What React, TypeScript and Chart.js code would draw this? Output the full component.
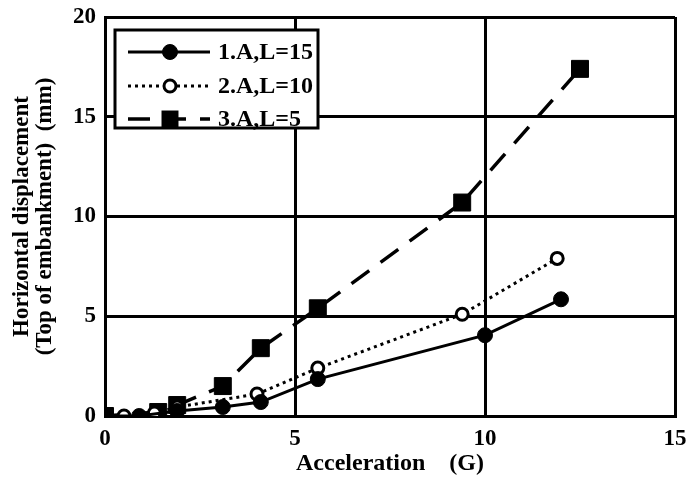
import React, { useEffect, useRef } from "react";
import { Chart, registerables } from "chart.js";

Chart.register(...registerables);

const labels1 = "1.A,L=15";
const labels2 = "2.A,L=10";
const labels3 = "3.A,L=5";

const accel1 = [0, 0.9, 1.9, 3.1, 4.1, 5.6, 10.0, 12.0];
const disp1 = [0, 0.0, 0.25, 0.45, 0.7, 1.85, 4.05, 5.85];

const accel2 = [0, 0.5, 1.3, 1.9, 4.0, 5.6, 9.4, 11.9];
const disp2 = [0, 0.0, 0.15, 0.45, 1.1, 2.4, 5.1, 7.9];

const accel3 = [0, 1.4, 1.9, 3.1, 4.1, 5.6, 9.4, 12.5];
const disp3 = [0, 0.2, 0.55, 1.5, 3.4, 5.4, 10.7, 17.4];

const xTicks = [0, 5, 10, 15];
const yTicks = [0, 5, 10, 15, 20];

const FONT = "'Liberation Serif', 'DejaVu Serif', serif";

const toPts = (xs: number[], ys: number[]) => xs.map((x, i) => ({ x, y: ys[i] }));

const legendPlugin = {
  id: "boxLegend",
  afterDatasetsDraw(chart: any) {
    const ctx = chart.ctx;
    const left = 115, top = 30, w = 203, h = 98;
    ctx.save();
    ctx.fillStyle = "#fff";
    ctx.fillRect(left, top, w, h);
    ctx.lineWidth = 3;
    ctx.strokeStyle = "#000";
    ctx.strokeRect(left, top, w, h);
    const rows = [52, 86, 119];
    chart.data.datasets.forEach((ds: any, i: number) => {
      const y = rows[i];
      ctx.setLineDash(ds.borderDash || []);
      ctx.lineWidth = ds.borderWidth;
      ctx.beginPath();
      ctx.moveTo(128, y);
      ctx.lineTo(210, y);
      ctx.stroke();
      ctx.setLineDash([]);
      const cx = 170;
      const r = ds.pointRadius;
      ctx.lineWidth = ds.pointBorderWidth;
      if (ds.pointStyle === "rect") {
        const s = Math.SQRT1_2 * r;
        ctx.fillStyle = "#000";
        ctx.fillRect(cx - s, y - s, 2 * s, 2 * s);
      } else {
        ctx.beginPath();
        ctx.arc(cx, y, r, 0, Math.PI * 2);
        ctx.fillStyle = ds.pointBackgroundColor;
        ctx.fill();
        ctx.stroke();
      }
      ctx.fillStyle = "#000";
      ctx.font = `bold 24px ${FONT}`;
      ctx.textBaseline = "middle";
      ctx.textAlign = "left";
      ctx.fillText(ds.label, 218, y + 1);
    });
    ctx.restore();
  },
};

export default function App() {
  const ref = useRef<HTMLCanvasElement | null>(null);
  useEffect(() => {
    if (!ref.current) return;
    const chart = new Chart(ref.current, {
      type: "scatter",
      data: {
        datasets: [
          {
            label: labels1,
            data: toPts(accel1, disp1),
            showLine: true,
            borderColor: "#000",
            borderWidth: 3,
            pointStyle: "circle",
            pointRadius: 7.5,
            pointBorderWidth: 1,
            pointBackgroundColor: "#000",
            pointBorderColor: "#000",
          },
          {
            label: labels2,
            data: toPts(accel2, disp2),
            showLine: true,
            borderColor: "#000",
            borderWidth: 3,
            borderDash: [3, 4],
            pointStyle: "circle",
            pointRadius: 6,
            pointBorderWidth: 3,
            pointBackgroundColor: "#fff",
            pointBorderColor: "#000",
          },
          {
            label: labels3,
            data: toPts(accel3, disp3),
            showLine: true,
            borderColor: "#000",
            borderWidth: 3.5,
            borderDash: [22, 14],
            pointStyle: "rect",
            pointRadius: 12,
            pointBorderWidth: 1,
            pointBackgroundColor: "#000",
            pointBorderColor: "#000",
          },
        ],
      },
      options: {
        animation: false,
        responsive: false,
        layout: { padding: { top: 17, right: 13, left: 0, bottom: 14 } },
        plugins: { legend: { display: false }, tooltip: { enabled: false } },
        scales: {
          x: {
            type: "linear",
            min: 0,
            max: 15,
            afterBuildTicks: (axis: any) => {
              axis.ticks = xTicks.map((v) => ({ value: v }));
            },
            afterFit: (axis: any) => {
              axis.height = 62;
              axis.paddingLeft = 0;
              axis.paddingRight = 0;
            },
            grid: { color: "#000", lineWidth: 3, drawTicks: false },
            border: { color: "#000", width: 3 },
            ticks: {
              color: "#000",
              padding: 9,
              maxRotation: 0,
              font: { family: FONT, size: 23, weight: "bold" },
            },
            title: {
              display: true,
              text: "Acceleration    (G)",
              color: "#000",
              padding: { top: 0, bottom: 0 },
              font: { family: FONT, size: 24, weight: "bold" },
            },
          },
          y: {
            type: "linear",
            min: 0,
            max: 20,
            afterBuildTicks: (axis: any) => {
              axis.ticks = yTicks.map((v) => ({ value: v }));
            },
            afterFit: (axis: any) => {
              axis.width = 105;
              axis.paddingTop = 0;
              axis.paddingBottom = 0;
            },
            grid: { color: "#000", lineWidth: 3, drawTicks: false },
            border: { color: "#000", width: 3 },
            ticks: {
              color: "#000",
              padding: 9,
              font: { family: FONT, size: 23, weight: "bold" },
            },
            title: {
              display: true,
              text: ["Horizontal displacement", "(Top of embankment)  (mm)"],
              color: "#000",
              padding: { top: 11, bottom: 0 },
              font: { family: FONT, size: 23, weight: "bold", lineHeight: 1.0 },
            },
          },
        },
      },
      plugins: [legendPlugin],
    } as any);
    return () => chart.destroy();
  }, []);
  return (
    <div style={{ position: "fixed", left: 0, top: 0, width: 688, height: 492, background: "#fff" }}>
      <canvas ref={ref} width={688} height={492} style={{ display: "block" }} />
    </div>
  );
}
